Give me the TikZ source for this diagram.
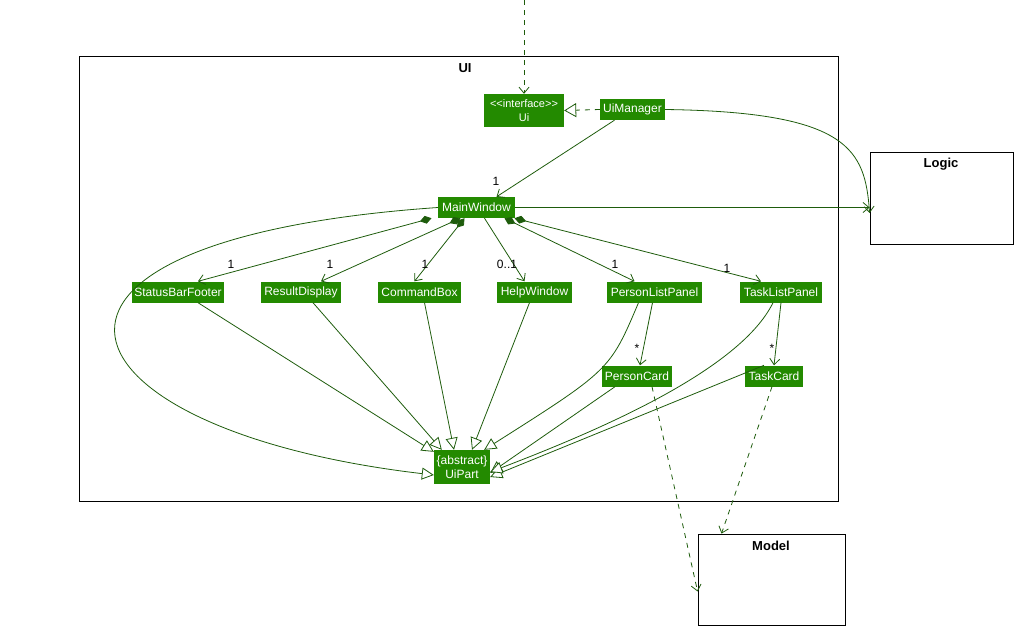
\documentclass[tikz,border=0pt]{standalone}
\usepackage{fontspec}
\setmainfont{Liberation Sans}
\usetikzlibrary{arrows.meta}
\definecolor{gf}{HTML}{238A00}
\definecolor{gl}{HTML}{1E5C0C}
\begin{document}
\begin{tikzpicture}[x=1pt,y=-1pt,font=\fontsize{12}{13.5}\selectfont,
 cls/.style={fill=gf,text=white,inner sep=2pt,align=center,minimum height=21pt},
 box/.style={draw=black,line width=0.8pt},
 ln/.style={draw=gl,line width=0.8pt},
 inh/.style={ln,-{Triangle[open,length=12pt,width=12pt,fill=white]}},
 asc/.style={ln,-{Straight Barb[length=6pt,width=10pt]}},
 comp/.style={ln,{Diamond[length=12pt,width=8pt]}-{Straight Barb[length=6pt,width=10pt]}},
 dep/.style={ln,dash pattern=on 5pt off 5pt,-{Straight Barb[length=6pt,width=10pt]}},
 lab/.style={font=\fontsize{12}{13}\selectfont,inner sep=0pt}]
\useasboundingbox (0,0) rectangle (1018,630);
\node[box,minimum width=759pt,minimum height=445pt,inner sep=0pt] (uif) at (458.5,278.5) {};
\node[font=\bfseries\fontsize{13}{14}\selectfont] (uit) at (465,68) {UI};
\node[box,minimum width=143pt,minimum height=92pt] (logic) at (941.5,198) {};
\node[font=\bfseries\fontsize{13}{14}\selectfont] (logict) at (941,164) {Logic};
\node[box,minimum width=147pt,minimum height=91pt] (model) at (771.5,579.5) {};
\node[font=\bfseries\fontsize{13}{14}\selectfont] (modelt) at (771,546) {Model};

\node[cls,minimum width=80pt,minimum height=33pt,inner sep=1pt,font=\fontsize{11}{13.5}\selectfont] (ui) at (524,110.5) {<{}<interface>{}>\\Ui};
\node[cls,minimum width=65pt] (uim) at (632.5,109.5) {UiManager};
\node[cls,minimum width=77pt] (mw) at (476.5,207.5) {MainWindow};
\node[cls,minimum width=92pt] (sbf) at (178,292) {StatusBarFooter};
\node[cls,minimum width=80pt] (rd) at (301,292) {ResultDisplay};
\node[cls,minimum width=83pt] (cb) at (419.5,292) {CommandBox};
\node[cls,minimum width=75pt] (hw) at (534.5,292) {HelpWindow};
\node[cls,minimum width=95pt] (plp) at (654.5,292) {PersonListPanel};
\node[cls,minimum width=82pt] (tlp) at (781,292) {TaskListPanel};
\node[cls,minimum width=70pt] (pc) at (637,376) {PersonCard};
\node[cls,minimum width=58pt] (tc) at (774,376) {TaskCard};
\node[cls,minimum width=56pt,minimum height=34pt,inner sep=1pt] (up) at (462,467) {\{abstract\}\\UiPart};

\coordinate (top) at (524,0);
\draw[dep] (top) -- (ui.north);
\draw[ln,dash pattern=on 5pt off 5pt,-{Triangle[open,length=12pt,width=14pt,fill=white]}] (uim.west) -- (ui.east);
\draw[asc] (uim.south) ++(-18,0) -- ([xshift=20pt]mw.north);
\node[lab] at (496,181) {1};
\draw[asc] (uim.east) .. controls (850,112) and (865,150) .. ([yshift=-15pt]logic.west);
\draw[asc] (mw.east) -- (logic.west |- mw.east);

\draw[comp] ([xshift=-5pt]mw.south) ++(-40,0) -- ([xshift=20pt]sbf.north);
\node[lab] at (231,264) {1};
\draw[comp] ([xshift=-16pt]mw.south) -- ([xshift=20pt]rd.north);
\node[lab] at (330,264) {1};
\draw[comp] ([xshift=-12pt]mw.south) -- ([xshift=-5pt]cb.north);
\node[lab] at (425,264) {1};
\draw[asc] ([xshift=8pt]mw.south) -- ([xshift=-10pt]hw.north);
\node[lab] at (507,264) {0..1};
\draw[comp] ([xshift=28pt]mw.south) -- ([xshift=-20pt]plp.north);
\node[lab] at (615,264) {1};
\draw[comp] ([xshift=38pt]mw.south) -- ([xshift=-20pt]tlp.north);
\node[lab] at (727,268) {1};
\draw[asc] ([xshift=-2pt]plp.south) -- ([xshift=3pt]pc.north);
\node[lab] at (637,348) {*};
\draw[asc] (tlp.south) -- (tc.north);
\node[lab] at (772,348) {*};

\draw[inh] (mw.west) .. controls (-30,240) and (50,430) .. ([yshift=-8pt]up.west);
\draw[inh] ([xshift=20pt]sbf.south) -- ([yshift=-2pt]up.north west);
\draw[inh] ([xshift=12pt]rd.south) -- ([xshift=8pt]up.north west);
\draw[inh] ([xshift=5pt]cb.south) -- ([xshift=-8pt]up.north);
\draw[inh] ([xshift=-5pt]hw.south) -- ([xshift=10pt]up.north);
\draw[inh] ([xshift=-16pt]plp.south) .. controls (610,370) .. ([xshift=-6pt]up.north east);
\draw[inh] ([xshift=-22pt]pc.south) -- ([yshift=-6pt]up.east);
\draw[inh] ([xshift=-10pt]tc.north) -- ([yshift=-10pt]up.east);
\draw[inh] ([xshift=-8pt]tlp.south) .. controls (740,370) and (600,430) .. ([yshift=-5pt]up.east);

\draw[dep] ([xshift=15pt]pc.south) -- ([yshift=-12pt]model.west);
\draw[dep] ([xshift=-2pt]tc.south) -- ([xshift=-50pt]model.north);
\end{tikzpicture}
\end{document}
